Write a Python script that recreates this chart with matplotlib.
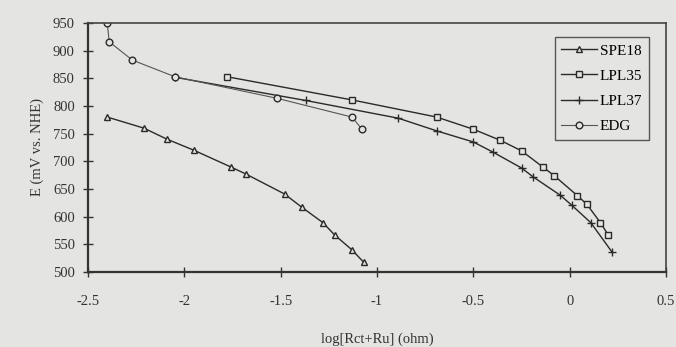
import numpy as np
import matplotlib
matplotlib.use("Agg")
import matplotlib.pyplot as plt

plt.rcParams['font.family'] = ['Liberation Serif', 'DejaVu Serif']

# data
spe18_x = [-2.40, -2.21, -2.09, -1.95, -1.76, -1.68, -1.48, -1.39, -1.28, -1.22, -1.13, -1.07]
spe18_y = [780, 760, 740, 720, 690, 677, 641, 617, 589, 567, 540, 518]

lpl35_x = [-1.78, -1.13, -0.69, -0.50, -0.36, -0.25, -0.14, -0.08, 0.04, 0.09, 0.16, 0.20]
lpl35_y = [853, 811, 780, 758, 738, 719, 690, 674, 638, 622, 589, 567]

lpl37_x = [-2.05, -1.37, -0.89, -0.69, -0.50, -0.40, -0.25, -0.19, -0.05, 0.01, 0.11, 0.22]
lpl37_y = [852, 810, 778, 755, 735, 717, 688, 672, 639, 621, 589, 536]

edg_x = [-2.40, -2.39, -2.27, -2.05, -1.52, -1.13, -1.08]
edg_y = [950, 916, 883, 853, 814, 780, 759]

bg = '#e4e4e2'
ink = '#2a2a2a'

fig = plt.figure(figsize=(6.76, 3.47), dpi=100, facecolor=bg)
ax = fig.add_axes([88/676, 1 - 272/347, (666-88)/676, (272-23)/347])
ax.set_facecolor(bg)

ax.plot(spe18_x, spe18_y, '-', color=ink, lw=1.0, marker='^', ms=4.5,
        mfc=bg, mec=ink, mew=1.0, label='SPE18')
ax.plot(lpl35_x, lpl35_y, '-', color=ink, lw=1.0, marker='s', ms=4.8,
        mfc=bg, mec=ink, mew=1.0, label='LPL35')
ax.plot(lpl37_x, lpl37_y, '-', color=ink, lw=1.0, marker='+', ms=6,
        mec=ink, mew=1.0, label='LPL37')
ax.plot(edg_x, edg_y, '-', color='#555555', lw=0.8, marker='o', ms=4.8,
        mfc=bg, mec=ink, mew=1.0, label='EDG')

ax.set_xlim(-2.5, 0.5)
ax.set_ylim(500, 950)
ax.set_xticks(np.arange(-2.5, 0.51, 0.5))
ax.set_xticklabels(['-2.5', '-2', '-1.5', '-1', '-0.5', '0', '0.5'])
ax.set_yticks(np.arange(500, 951, 50))

for s in ['left', 'bottom']:
    ax.spines[s].set_linewidth(1.6)
    ax.spines[s].set_color('#333333')
for s in ['top', 'right']:
    ax.spines[s].set_linewidth(1.2)
    ax.spines[s].set_color('#444444')

ax.tick_params(axis='both', direction='inout', length=7, width=1.0,
               colors='#333333', labelsize=10.5, labelcolor='#333333')
ax.tick_params(axis='x', pad=13)
ax.tick_params(axis='y', pad=6)

ax.set_xlabel('log[Rct+Ru] (ohm)', fontsize=10.5, color='#333333', labelpad=18)
ax.set_ylabel('E (mV vs. NHE)', fontsize=10.5, color='#333333', labelpad=6)

leg = ax.legend(loc='upper right', fontsize=11, frameon=True,
                fancybox=False, edgecolor='#333333', facecolor=bg,
                handlelength=2.3, handletextpad=0.2, labelspacing=0.75,
                borderpad=0.45, borderaxespad=0)
leg.get_frame().set_linewidth(1.0)
leg.set_bbox_to_anchor((649/676, 1 - 37/347), transform=fig.transFigure)

fig.savefig('out.png', dpi=100, facecolor=bg)
